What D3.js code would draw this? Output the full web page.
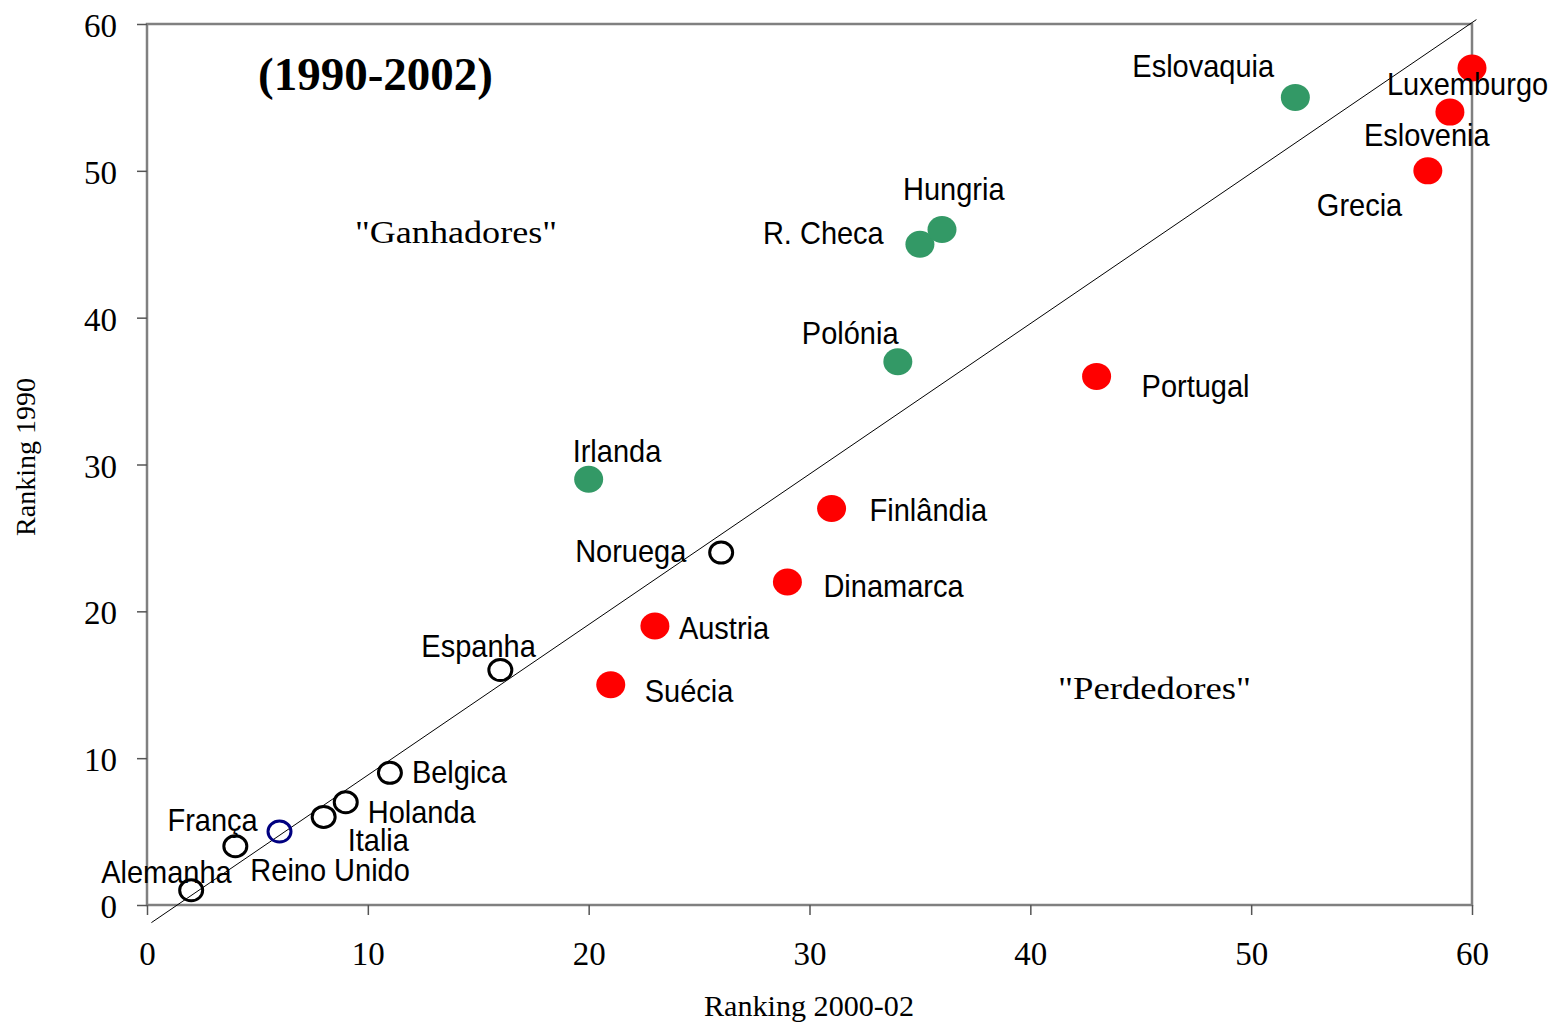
<!DOCTYPE html>
<html lang="en">
<head>
<meta charset="UTF-8">
<title>Ranking 1990 vs 2000-02</title>
<style>
body { margin: 0; background: #fff; }
svg { display: block; }
.serif { font-family: "Liberation Serif", "Times New Roman", serif; fill: #000; }
.lbl { font-family: "Liberation Sans", Arial, sans-serif; font-size: 29px; fill: #000; }
</style>
</head>
<body>
<svg id="chart" width="1558" height="1024"></svg>
<script src="https://cdn.jsdelivr.net/npm/d3@7/dist/d3.min.js"></script>
<script>

// data
const countries = ["Alemanha","Reino Unido","França","Italia","Holanda","Belgica","Espanha","Noruega",
	"Suécia","Austria","Dinamarca","Finlândia","Portugal","Grecia","Eslovenia","Luxemburgo",
	"Irlanda","Polónia","R. Checa","Hungria","Eslovaquia"];
const rank2002 = [2,4,6,8,9,11,16,26, 21,23,29,31,43,58,59,60, 20,34,35,36,52];
const rank1990 = [1,4,5,6,7,9,16,24, 15,19,22,27,36,50,54,57, 29,37,45,46,55];
const group = ["open","open","blue","open","open","open","open","open",
	"lose","lose","lose","lose","lose","lose","lose","lose",
	"win","win","win","win","win"];
const xTicks = [0,10,20,30,40,50,60];
const yTicks = [0,10,20,30,40,50,60];
const diagonal = [[0.2,-1.2],[60.2,60.3]];

// label placement (pixels, relative to the marker)
const labelOffset = {
	"Alemanha":[-90,-7], "Reino Unido":[15,35], "França":[-112,-1], "Italia":[24,34],
	"Holanda":[22,21], "Belgica":[22,10], "Espanha":[-79,-13], "Noruega":[-146,9],
	"Suécia":[34,17], "Austria":[24,13], "Dinamarca":[36,15], "Finlândia":[38,12],
	"Portugal":[45,21], "Grecia":[-111,45], "Eslovenia":[-86,34], "Luxemburgo":[-85,27],
	"Irlanda":[-16,-17], "Polónia":[-96,-18], "R. Checa":[-157,0], "Hungria":[-39,-30],
	"Eslovaquia":[-163,-20]
};

const data = countries.map((c,i) => ({name: c, x: rank2002[i], y: rank1990[i], g: group[i]}));

const svg = d3.select("#chart");
const mLeft = 147, mRight = 1472, mTop = 24, mBottom = 905;

const x = d3.scaleLinear().domain([0,60]).range([mLeft,mRight]);
const y = d3.scaleLinear().domain([0,60]).range([mBottom,mTop]);

// frame
svg.append("rect")
	.attr("x",mLeft).attr("y",mTop)
	.attr("width",mRight-mLeft).attr("height",mBottom-mTop)
	.attr("fill","none").attr("stroke","#808080").attr("stroke-width",2.5);

// axes
const xAxis = svg.append("g").attr("transform",`translate(0,${mBottom})`)
	.call(d3.axisBottom(x).tickValues(xTicks).tickSize(10).tickPadding(28));
const yAxis = svg.append("g").attr("transform",`translate(${mLeft},0)`)
	.call(d3.axisLeft(y).tickValues(yTicks).tickSize(10).tickPadding(20));
[xAxis,yAxis].forEach(a => {
	a.select(".domain").remove();
	a.selectAll(".tick line").attr("stroke","#555").attr("stroke-width",1.5);
	a.selectAll(".tick text")
		.attr("class","serif")
		.style("font-size","33px");
});
xAxis.selectAll(".tick text").attr("dy","0.68em");
yAxis.selectAll(".tick text").attr("dy","0.38em");

// diagonal
svg.append("path")
	.datum(diagonal)
	.attr("d", d3.line().x(d => x(d[0])).y(d => y(d[1])))
	.attr("stroke","#000").attr("stroke-width",1).attr("fill","none");

// points
const fillCol = {win:"#339966", lose:"#ff0000", open:"none", blue:"none"};
const strokeCol = {win:"none", lose:"none", open:"#000", blue:"#000080"};

svg.append("g").selectAll("ellipse")
	.data(data)
	.join("ellipse")
	.attr("cx", d => x(d.x))
	.attr("cy", d => y(d.y))
	.attr("rx", d => (d.g === "win" || d.g === "lose") ? 14.5 : 11.5)
	.attr("ry", d => (d.g === "win" || d.g === "lose") ? 13.5 : 10.5)
	.attr("fill", d => fillCol[d.g])
	.attr("stroke", d => strokeCol[d.g])
	.attr("stroke-width", 3);

// country labels
svg.append("g").selectAll("text")
	.data(data)
	.join("text")
	.attr("class","lbl")
	.attr("transform", d => {
		const o = labelOffset[d.name];
		return `translate(${x(d.x)+o[0]},${y(d.y)+o[1]}) scale(1,1.07)`;
	})
	.text(d => d.name);

// annotations
svg.append("text").attr("class","serif")
	.attr("x",258).attr("y",90)
	.style("font-size","47px").style("font-weight","bold")
	.text("(1990-2002)");

svg.append("text").attr("class","serif")
	.attr("x",355).attr("y",243)
	.style("font-size","31px")
	.attr("textLength",202).attr("lengthAdjust","spacingAndGlyphs")
	.text("\"Ganhadores\"");

svg.append("text").attr("class","serif")
	.attr("x",1058).attr("y",699)
	.style("font-size","31px")
	.attr("textLength",193).attr("lengthAdjust","spacingAndGlyphs")
	.text("\"Perdedores\"");

// axis titles
svg.append("text").attr("class","serif")
	.attr("x",809).attr("y",1016)
	.attr("text-anchor","middle")
	.style("font-size","29px")
	.attr("textLength",210).attr("lengthAdjust","spacingAndGlyphs")
	.text("Ranking 2000-02");

svg.append("text").attr("class","serif")
	.attr("transform","translate(35,457) rotate(-90)")
	.attr("text-anchor","middle")
	.style("font-size","28px")
	.text("Ranking 1990");

</script>
</body>
</html>
